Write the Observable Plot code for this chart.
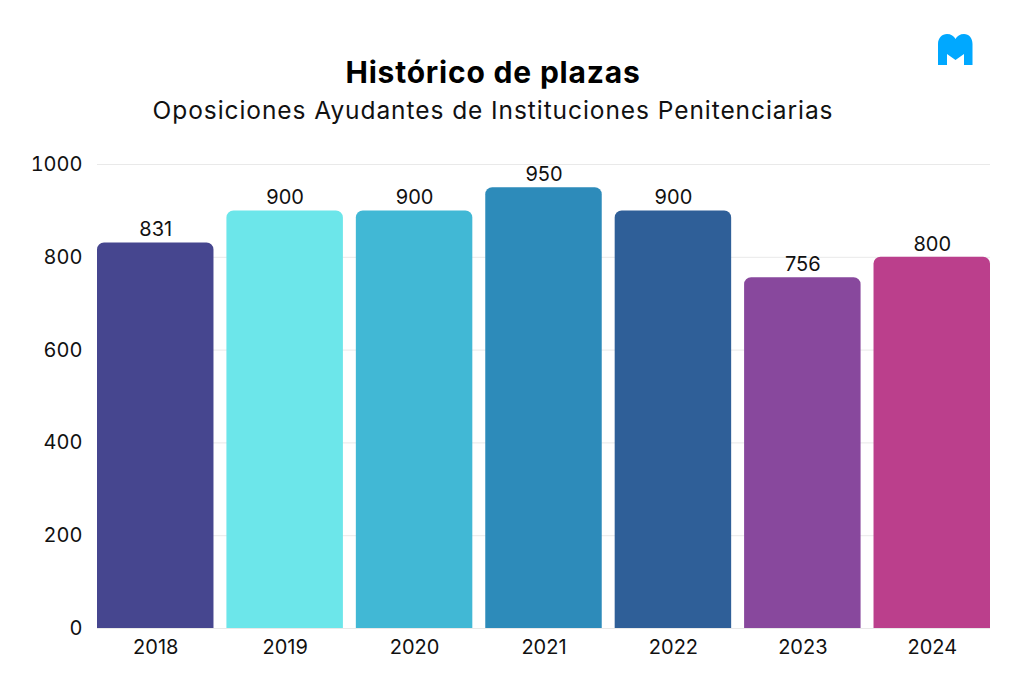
<!DOCTYPE html>
<html><head><meta charset="utf-8">
<script src="https://cdn.jsdelivr.net/npm/d3@7"></script>
<script src="https://cdn.jsdelivr.net/npm/@observablehq/plot@0.6"></script>
<style>
html,body{margin:0;padding:0;background:#fff;width:1024px;height:691px;overflow:hidden}
body{position:relative;font-family:Inter,"Noto Sans",sans-serif;color:#000}
#title{position:absolute;left:0;width:986px;top:53px;text-align:center;font-size:30px;font-weight:700;line-height:38px;letter-spacing:.8px}
#subtitle{position:absolute;left:0;width:986px;top:95px;text-align:center;font-size:24.5px;font-weight:400;line-height:30px;color:#111;letter-spacing:.93px}
#logo{position:absolute;left:937px;top:33px}
#chart{position:absolute;left:0;top:140px}
</style></head><body>
<div id="title">Histórico de plazas</div>
<div id="subtitle">Oposiciones Ayudantes de Instituciones Penitenciarias</div>
<svg id="logo" width="36" height="33" viewBox="0 0 36 33"><path fill="#00a8ff" d="M1 32V11C1 5 5 1 10 1C14 1 17 3 18.500 6C20 3 23 1 27 1C32 1 35.500 5 35.500 11V32H27V21L18.500 27L10 21V32Z"/></svg>
<div id="chart"></div>
<script>
const years = ["2018","2019","2020","2021","2022","2023","2024"];
const plazas = [831,900,900,950,900,756,800];
const colors = ["#46468f","#6ce6ea","#41b8d5","#2d8bba","#2f5f98","#88489d","#bb3f8c"];
const yTicks = [0,200,400,600,800,1000];
const rows = years.map((year,i)=>({year,value:plazas[i],color:colors[i]}));
const plot = Plot.plot({
  width:1024, height:530,
  marginLeft:97, marginRight:34, marginTop:24, marginBottom:42,
  style:{fontFamily:"Inter, 'Noto Sans', sans-serif",fontSize:"20px",color:"#111",background:"transparent"},
  x:{domain:years,paddingInner:0.1,paddingOuter:0,round:false,label:null,tickSize:0,tickPadding:11},
  y:{domain:[0,1000],ticks:yTicks,tickFormat:"d",label:null,tickSize:0,tickPadding:15},
  marks:[
    Plot.gridY(yTicks,{stroke:"#e9e9e9",strokeOpacity:1}),
    Plot.barY(rows,{x:"year",y:"value",fill:"color",ry1:7}),
    Plot.text(rows,{x:"year",y:"value",text:d=>String(d.value),dy:-13,fontSize:20,fill:"#111"})
  ]
});
document.getElementById("chart").appendChild(plot);
</script>
</body></html>
